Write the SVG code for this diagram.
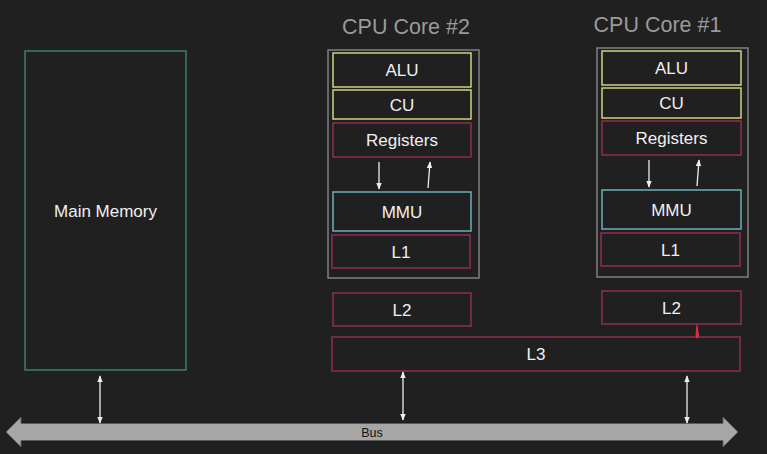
<svg xmlns="http://www.w3.org/2000/svg" width="767" height="454" viewBox="0 0 767 454">
<defs>
<style>
text{font-family:"Liberation Sans",Arial,sans-serif;}
.lbl{fill:#f0f0f0;font-size:17px;text-anchor:middle;}
.title{fill:#9a9a9a;font-size:21.5px;text-anchor:middle;}
.y{fill:none;stroke:#cfd27a;stroke-width:1.5;}
.r{fill:none;stroke:#8e2e4e;stroke-width:1.5;}
.c{fill:none;stroke:#6aaebc;stroke-width:1.5;}
.g{fill:none;stroke:#808080;stroke-width:1.5;}
.m{fill:none;stroke:#3e7d68;stroke-width:1.5;}
.conn{stroke:#eeeeee;stroke-width:1.3;fill:none;}
</style>
<marker id="ah" viewBox="0 0 10 10" refX="9" refY="5" markerWidth="7" markerHeight="7" orient="auto-start-reverse" markerUnits="userSpaceOnUse">
<path d="M0,1 L10,5 L0,9 Z" fill="#eeeeee"/>
</marker>
</defs>
<rect width="767" height="454" fill="#202020"/>

<g id="main-memory">
<rect class="m" x="25" y="51" width="161" height="319"/>
<text class="lbl" x="105.5" y="217">Main Memory</text>
</g>

<g id="core2">
<text class="title" x="406" y="34">CPU Core #2</text>
<rect class="g" x="328" y="50" width="151" height="228"/>
</g>
<g id="core2-alu"><rect class="y" x="333" y="53" width="138" height="34"/><text class="lbl" x="402" y="76">ALU</text></g>
<g id="core2-cu"><rect class="y" x="333" y="90" width="138" height="29"/><text class="lbl" x="402" y="110.5">CU</text></g>
<g id="core2-registers"><rect class="r" x="333" y="123" width="138" height="34"/><text class="lbl" x="402" y="146">Registers</text></g>
<g id="core2-mmu"><rect class="c" x="333" y="192" width="138" height="39"/><text class="lbl" x="402" y="218">MMU</text></g>
<g id="core2-l1"><rect class="r" x="332" y="235" width="138" height="33"/><text class="lbl" x="401" y="257.5">L1</text></g>
<g id="core2-l2"><rect class="r" x="333" y="293" width="138" height="33"/><text class="lbl" x="402" y="315.5">L2</text></g>

<g id="core1">
<text class="title" x="657.5" y="32">CPU Core #1</text>
<rect class="g" x="597" y="48" width="151" height="229"/>
</g>
<g id="core1-alu"><rect class="y" x="602" y="51" width="139" height="34"/><text class="lbl" x="671.5" y="74">ALU</text></g>
<g id="core1-cu"><rect class="y" x="602" y="88" width="139" height="30"/><text class="lbl" x="671.5" y="108.5">CU</text></g>
<g id="core1-registers"><rect class="r" x="602" y="121" width="139" height="34"/><text class="lbl" x="671.5" y="144">Registers</text></g>
<g id="core1-mmu"><rect class="c" x="602" y="190" width="139" height="39"/><text class="lbl" x="671.5" y="216">MMU</text></g>
<g id="core1-l1"><rect class="r" x="601" y="233" width="139" height="33"/><text class="lbl" x="670.5" y="255.5">L1</text></g>
<g id="core1-l2"><rect class="r" x="602" y="291" width="139" height="33"/><text class="lbl" x="671.5" y="313.5">L2</text></g>

<g id="l3"><rect class="r" x="332" y="337" width="408" height="34"/><text class="lbl" x="536" y="360">L3</text></g>

<g id="bus">
<path d="M6,432 L21,417 L21,423.5 L723,423.5 L723,417 L738,432 L723,447 L723,440.5 L21,440.5 L21,447 Z" fill="#a6a6a6" stroke="#5a5a5a" stroke-width="1"/>
<text x="372" y="437" font-size="12.5" fill="#111111" text-anchor="middle">Bus</text>
</g>

<g id="connectors">
<line class="conn" x1="379" y1="162" x2="379" y2="189" marker-end="url(#ah)"/>
<line class="conn" x1="428" y1="188" x2="430" y2="162" marker-end="url(#ah)"/>
<line class="conn" x1="649" y1="160" x2="649" y2="187" marker-end="url(#ah)"/>
<line class="conn" x1="697" y1="186" x2="699" y2="160" marker-end="url(#ah)"/>
<line class="conn" x1="100" y1="376" x2="100" y2="423" marker-start="url(#ah)" marker-end="url(#ah)"/>
<line class="conn" x1="403" y1="372" x2="403" y2="420" marker-start="url(#ah)" marker-end="url(#ah)"/>
<line class="conn" x1="687" y1="376" x2="687" y2="423" marker-start="url(#ah)" marker-end="url(#ah)"/>
<path d="M697.5,325 L699,336 Q698,339 696,338 Q695,336 696.5,325 Z" fill="#e0303a"/>
</g>
</svg>
